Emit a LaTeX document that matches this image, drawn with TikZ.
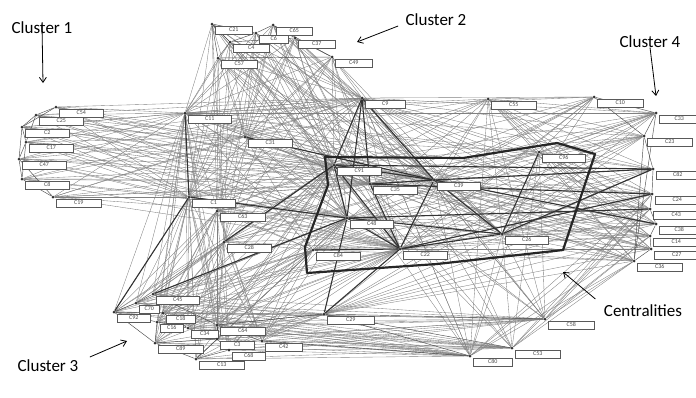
\documentclass[tikz,border=0pt]{standalone}
\usepackage{fontspec}
\setmainfont{Carlito}
\usetikzlibrary{arrows.meta,positioning,backgrounds}

\tikzset{
  vtx/.style={circle,fill=black!80,inner sep=0pt,minimum size=3pt},
  tag/.style={draw=black!65,fill=white,line width=0.5pt,inner sep=0pt,
    minimum height=8pt,font=\fontsize{6}{6}\selectfont,text=black!70},
  link/.style={draw=black!50,line width=0.35pt},
  inlink/.style={draw=black!70,line width=0.45pt},
  strong/.style={draw=black!80,line width=1.1pt},
  callout/.style={font=\fontsize{17}{17}\selectfont},
  pointer/.style={-{Straight Barb[length=5pt,width=7pt]},line width=0.8pt}
}

\begin{document}
\begin{tikzpicture}[x=1pt,y=-1pt]
\useasboundingbox (0,0) rectangle (696,397);

% vertices with their label boxes
\foreach \n/\x/\y/\t/\w in {
  c54/56/107/C54/44pt, c25/36/115/C25/44pt, c2/22/127/C2/44pt,
  c17/26/142/C17/44pt, c47/19/159/C47/44pt, c8/22/179/C8/44pt,
  c19/53/197/C19/45pt,
  c21/212/24/C21/37pt, c65/273/25/C65/36pt, c6/256/33/C6/29pt,
  c4/230/42/C4/36pt, c37/295/38/C37/37pt, c57/218/58/C57/36pt,
  c49/332/57/C49/37pt,
  c11/185/113/C11/43pt, c31/245/137/C31/44pt, c1/189/197/C1/43pt,
  c63/217/211/C63/45pt, c28/224/242/C28/44pt,
  c9/362/98/C9/40pt, c55/488/99/C55/45pt, c10/594/97/C10/46pt,
  c91/334/165/C91/44pt, c35/370/184/C35/44pt, c39/434/180/C39/43pt,
  c48/347/218/C48/43pt, c26/502/234/C26/43pt, c22/400/249/C22/44pt,
  c84/313/250/C84/44pt, c96/539/152/C96/43pt,
  c33/656/113/C33/40pt, c23/644/136/C23/45pt, c82/653/169/C82/43pt,
  c24/652/194/C24/44pt, c43/650/209/C43/46pt, c38/656/224/C38/40pt,
  c14/650/236/C14/46pt, c27/651/249/C27/45pt, c36/634/261/C36/45pt,
  c45/153/294/C45/43pt, c70/136/303/C70/20pt, c92/114/312/C92/33pt,
  c18/163/313/C18/29pt, c16/157/322/C16/23pt, c34/188/328/C34/27pt,
  c64/217/325/C64/45pt, c89/155/343/C89/45pt, c3/217/339/C3/34pt,
  c42/262/341/C42/37pt, c68/229/350/C68/33pt, c13/196/359/C13/45pt,
  c29/324/314/C29/47pt, c58/545/319/C58/46pt, c80/470/356/C80/39pt,
  c53/512/348/C53/45pt}
{
  \node[vtx] (\n) at (\x,\y) {};
  \node[tag,minimum width=\w,anchor=north west] (\n-l)
    at ([shift={(3,1.5)}]\n.center) {\t};
}

\def\clusterA{c54,c25,c2,c17,c47,c8,c19}
\def\clusterB{c21,c65,c6,c4,c37,c57,c49}
\def\clusterC{c45,c70,c92,c18,c16,c34,c64,c89,c3,c42,c68,c13}
\def\clusterD{c10,c33,c23,c82,c24,c43,c38,c14,c27,c36}

\begin{scope}[on background layer]
% light mesh
\foreach \a in \clusterA
  \foreach \b in {c11,c1,c9,c91,c35,c39,c48,c22,c31}
    \draw[link] (\a) -- (\b);
\foreach \a in \clusterB
  \foreach \b in {c11,c31,c1,c63,c28,c9,c91,c35,c48,c22,c26,c39}
    \draw[link] (\a) -- (\b);
\foreach \a in \clusterD
  \foreach \b in {c9,c55,c91,c35,c39,c48,c22,c26,c96,c84,c29,c11}
    \draw[link] (\a) -- (\b);
\foreach \a in \clusterC
  \foreach \b in {c1,c63,c28,c91,c48,c22,c29,c80,c53,c58,c84,c11}
    \draw[link] (\a) -- (\b);
\foreach \a in {c11,c31,c1,c63,c28}
  \foreach \b in {c9,c55,c91,c35,c39,c48,c22,c26,c96,c84}
    \draw[link] (\a) -- (\b);
\foreach \a in {c80,c53,c58}
  \foreach \b in {c91,c35,c39,c26,c96,c24,c43,c14,c36,c9}
    \draw[link] (\a) -- (\b);
\foreach \a in {c9,c55}
  \foreach \b in {c96,c26,c22,c39,c84,c58,c80}
    \draw[link] (\a) -- (\b);

% edges inside the clusters
\foreach \a/\b in {c54/c25,c25/c2,c2/c17,c17/c47,c47/c8,c8/c19,c54/c2,
  c25/c17,c2/c47,c17/c8,c47/c19,
  c21/c6,c21/c4,c21/c57,c6/c65,c65/c37,c4/c6,c4/c37,c57/c4,c37/c49,
  c57/c49,c65/c49,
  c10/c33,c33/c23,c23/c82,c82/c24,c24/c43,c43/c38,c38/c14,c14/c27,
  c27/c36,c33/c36,c23/c36,c10/c23,
  c92/c70,c70/c45,c92/c18,c92/c16,c92/c89,c16/c89,c89/c13,c13/c68,
  c68/c3,c3/c64,c64/c42,c34/c3,c18/c34,c16/c34,c45/c64,c13/c3,c89/c3,
  c42/c80,c29/c58,c29/c80,c29/c53,c64/c29}
  \draw[inlink] (\a) -- (\b);

% heavy edges
\foreach \a/\b in {c11/c1,c1/c92,c9/c91,c9/c35,c9/c48,c9/c39,c91/c48,
  c91/c39,c35/c39,c48/c22,c91/c22,c35/c22,c39/c22,c22/c26,c48/c26,
  c39/c26,c22/c84,c39/c82,c91/c82,c35/c24,c22/c24,c26/c82,c48/c43,
  c1/c48,c31/c39,c28/c91,c45/c48,c29/c22,c29/c48,c96/c26,c39/c38}
  \draw[strong] (\a) -- (\b);

% outline round the central vertices
\draw[line width=2.2pt,black!85,line join=round]
  (325,157) -- (463,158) -- (557,143) -- (595,154) -- (563,250)
  -- (437,264) -- (307,273) -- (305,247) -- (328,185) -- cycle;
\end{scope}

% cluster names
\node[callout] (nameA) at (42,28) {Cluster 1};
\node[callout] (nameB) at (436,20) {Cluster 2};
\node[callout] (nameD) at (650,42) {Cluster 4};
\node[callout] (nameE) at (643,311) {Centralities};
\node[callout] (nameC) at (48,366) {Cluster 3};

\coordinate (tipA) at (43,83);
\coordinate (tipB) at (357,42);
\coordinate (tipD) at (656,96);
\coordinate (tipE) at (563,272);
\coordinate (tipC) at (127,341);

\draw[pointer] (nameA.south) ++(0,-12) -- (tipA);
\draw[pointer] (nameB.west) ++(-4,6) -- (tipB);
\draw[pointer] (nameD.south) ++(0,-4) -- (tipD);
\draw[pointer] (nameE.west) ++(-5,-12) -- (tipE);
\draw[pointer] (nameC.east) ++(8,-9) -- (tipC);
\end{tikzpicture}
\end{document}
